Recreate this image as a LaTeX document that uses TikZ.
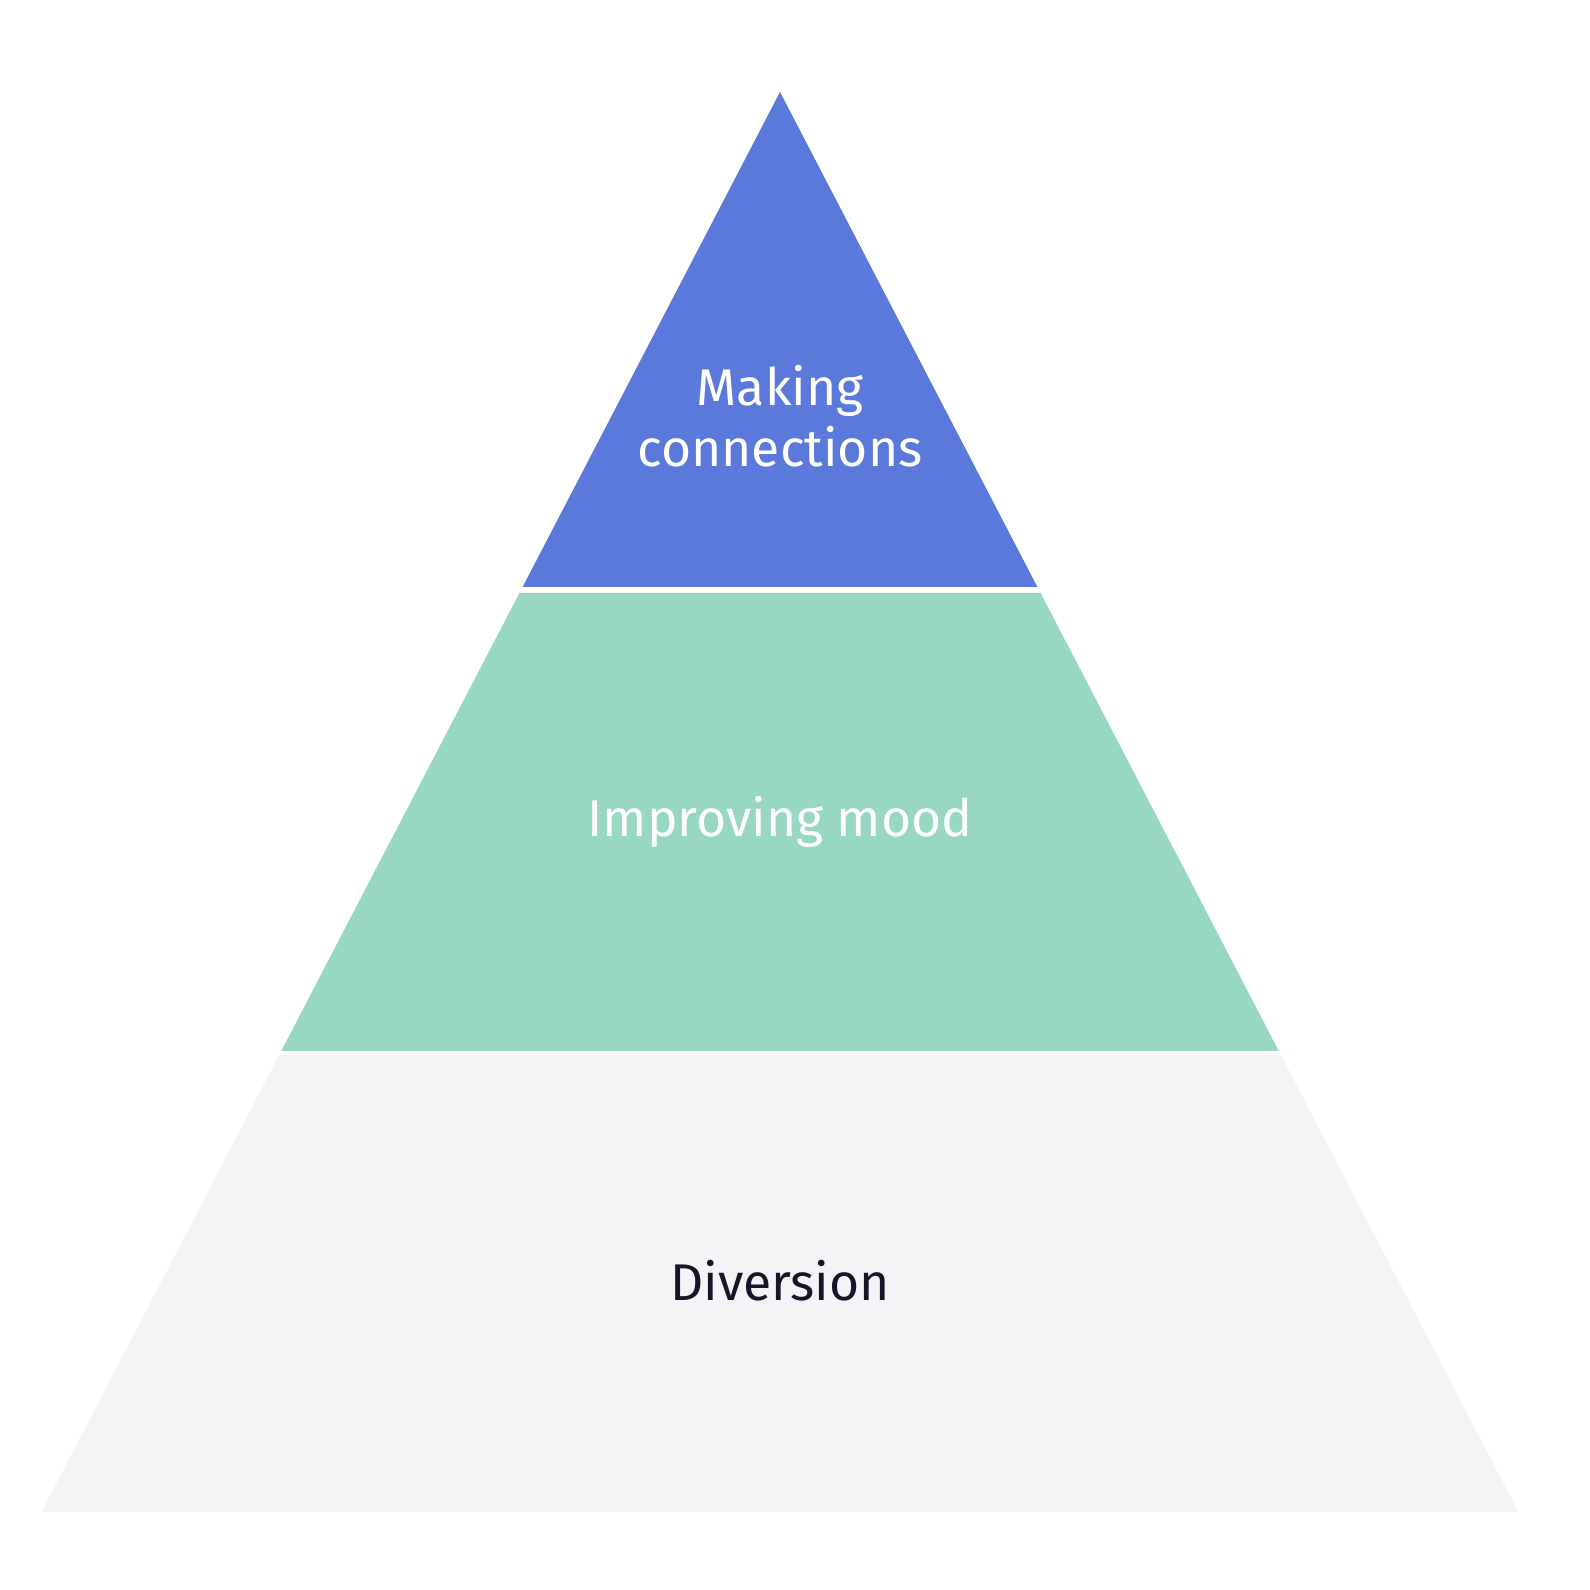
\documentclass[tikz,border=0pt]{standalone}
\usepackage{fontspec}
\setmainfont{Fira Sans}
\usetikzlibrary{positioning}
\definecolor{tipblue}{HTML}{5B79DB}
\definecolor{moodgreen}{HTML}{97D7C4}
\definecolor{basegrey}{HTML}{F4F4F7}
\definecolor{basetext}{HTML}{16162A}
\begin{document}
\begin{tikzpicture}[x=0.1mm,y=-0.1mm,
    band/.style={draw=none},
    tiertext/.style={font=\fontsize{14.7}{17.5}\selectfont, align=center, text=white, inner sep=0pt}]
  \useasboundingbox (0,0) rectangle (1590,1590);
  % corners of the three bands
  \coordinate (apex) at (780,92);
  \coordinate (tipL) at (522.6,587);
  \coordinate (tipR) at (1037.4,587);
  \coordinate (moodTL) at (519.4,593);
  \coordinate (moodTR) at (1040.6,593);
  \coordinate (moodBL) at (281.2,1051);
  \coordinate (moodBR) at (1278.8,1051);
  \coordinate (baseTL) at (279.1,1055);
  \coordinate (baseTR) at (1280.9,1055);
  \coordinate (baseBL) at (41.5,1512);
  \coordinate (baseBR) at (1518.5,1512);

  \fill[band, tipblue] (apex) -- (tipR) -- (tipL) -- cycle;
  \fill[band, moodgreen] (moodTL) -- (moodTR) -- (moodBR) -- (moodBL) -- cycle;
  \fill[band, basegrey] (baseTL) -- (baseTR) -- (baseBR) -- (baseBL) -- cycle;

  \node[tiertext] (making) at (780,416) {Making\\connections};
  \node[tiertext] (mood) at (780,822) {Improving mood};
  \node[tiertext, text=basetext] (diversion) at (780,1281) {Diversion};
\end{tikzpicture}
\end{document}
